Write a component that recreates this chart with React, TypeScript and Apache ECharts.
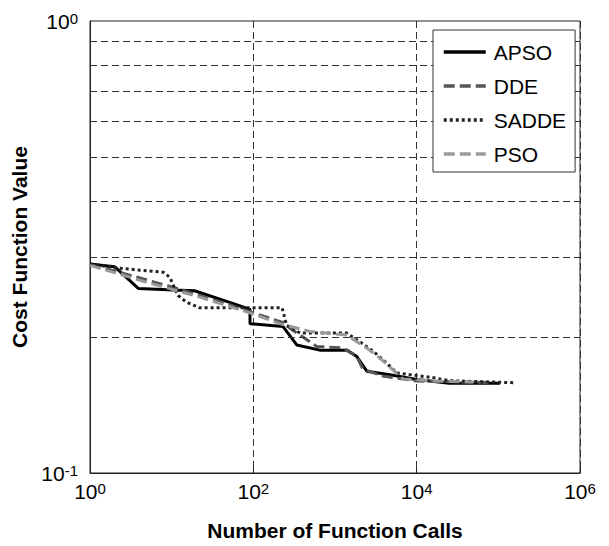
import React, { useEffect, useRef } from 'react';
import * as echarts from 'echarts';

const FONT = '"Liberation Sans", Arial, Helvetica, sans-serif';

const seriesNames = ['APSO', 'DDE', 'SADDE', 'PSO'];

const apsoX = [1, 2, 3.9, 10.5, 19, 57, 91, 91, 230, 340, 650, 1400, 1850, 2450, 4700, 10000, 25000, 105000];
const apsoY = [0.29, 0.286, 0.256, 0.254, 0.253, 0.237, 0.23, 0.214, 0.211, 0.192, 0.187, 0.187, 0.181, 0.168, 0.165, 0.161, 0.158, 0.158];

const ddeX = [1, 2, 10, 50, 100, 256, 281, 597, 1253, 1845, 2200, 3870, 10000, 79000];
const ddeY = [0.289, 0.28, 0.258, 0.236, 0.226, 0.214, 0.209, 0.1906, 0.189, 0.1812, 0.1698, 0.1638, 0.1598, 0.1585];

const saddeX = [1, 2.2, 7.9, 9.5, 10.5, 12, 15, 22, 225, 256, 373, 1390, 2020, 2940, 4300, 5700, 16000, 25600, 160000];
const saddeY = [0.29, 0.284, 0.278, 0.271, 0.26, 0.247, 0.239, 0.232, 0.232, 0.212, 0.204, 0.204, 0.195, 0.186, 0.175, 0.1665, 0.1625, 0.16, 0.1584];

const psoX = [1, 5.4, 22, 91, 212, 494, 1390, 2445, 3540, 6800, 17700, 50000];
const psoY = [0.288, 0.263, 0.245, 0.226, 0.214, 0.2056, 0.202, 0.189, 0.1796, 0.1614, 0.1598, 0.1589];

const yGridValues = [0.2, 0.3, 0.4, 0.5, 0.6, 0.7, 0.8, 0.9];

const zip = (xs: number[], ys: number[]) => xs.map((x, i) => [x, ys[i]]);

const powLabel = (v: number) => {
  const e = Math.round(Math.log10(v));
  return `{b|10}{e|${e}}`;
};

const rich = {
  b: { fontSize: 21, lineHeight: 21, fontFamily: FONT, color: '#000', padding: [9, 0, 9, 0] },
  e: { fontSize: 15, lineHeight: 15, fontFamily: FONT, color: '#000', verticalAlign: 'top' },
};

export default function App() {
  const ref = useRef<HTMLDivElement>(null);
  useEffect(() => {
    if (!ref.current) return;
    const chart = echarts.init(ref.current, null, { renderer: 'svg' });
    const nameStyle = { fontFamily: FONT, fontWeight: 'bold', fontSize: 21, color: '#000' };
    const option: any = {
      animation: false,
      backgroundColor: '#fff',
      grid: { left: 90, right: 29, top: 21, bottom: 68, show: true, borderColor: '#222', borderWidth: 1, backgroundColor: 'transparent' },
      legend: {
        data: seriesNames,
        orient: 'vertical',
        left: 433,
        top: 30,
        itemWidth: 42,
        itemHeight: 14,
        itemGap: 10,
        padding: [10, 9, 6, 9],
        borderColor: '#333',
        borderWidth: 1,
        backgroundColor: '#fff',
        itemStyle: { color: 'transparent', borderColor: 'transparent', borderWidth: 0, opacity: 0 },
        lineStyle: { width: 3.5 },
        textStyle: { fontFamily: FONT, fontSize: 21, lineHeight: 24, color: '#000', padding: [0, 0, 0, 3] },
        selectedMode: false,
        z: 10,
      },
      xAxis: {
        type: 'log',
        logBase: 10,
        min: 1,
        max: 1e6,
        interval: 2,
        name: 'Number of Function Calls',
        nameLocation: 'middle',
        nameGap: 47,
        nameTextStyle: nameStyle,
        axisLine: { show: true, lineStyle: { color: '#222', width: 1 } },
        axisTick: { show: true, inside: true, length: 5, lineStyle: { color: '#222' } },
        axisLabel: { formatter: powLabel, rich, margin: 8, showMinLabel: true, showMaxLabel: true },
        splitLine: { show: true, lineStyle: { color: '#333', type: [7, 4], width: 1 } },
      },
      yAxis: {
        type: 'log',
        logBase: 10,
        min: 0.1,
        max: 1,
        interval: 1,
        name: 'Cost Function Value',
        nameLocation: 'middle',
        nameGap: 59,
        nameTextStyle: nameStyle,
        axisLine: { show: true, lineStyle: { color: '#222', width: 1 } },
        axisTick: { show: false },
        axisLabel: { formatter: powLabel, rich, margin: 12, showMinLabel: true, showMaxLabel: true },
        splitLine: { show: false },
      },
      series: [
        {
          type: 'line',
          name: 'gridlines',
          data: [],
          silent: true,
          z: 1,
          markLine: {
            silent: true,
            symbol: ['none', 'none'],
            label: { show: false },
            emphasis: { disabled: true },
            lineStyle: { color: '#333', type: [7, 4], width: 1 },
            data: yGridValues.map((v) => ({ yAxis: v })),
          },
        },
        {
          type: 'line', name: 'APSO', data: zip(apsoX, apsoY), symbol: 'none', z: 3,
          lineStyle: { color: '#000', width: 3, type: 'solid' }, itemStyle: { color: '#000' },
        },
        {
          type: 'line', name: 'DDE', data: zip(ddeX, ddeY), symbol: 'none', z: 3,
          lineStyle: { color: '#555', width: 3, type: [11, 5] }, itemStyle: { color: '#555' },
        },
        {
          type: 'line', name: 'SADDE', data: zip(saddeX, saddeY), symbol: 'none', z: 3,
          lineStyle: { color: '#222', width: 3, type: [3, 3] }, itemStyle: { color: '#222' },
        },
        {
          type: 'line', name: 'PSO', data: zip(psoX, psoY), symbol: 'none', z: 3,
          lineStyle: { color: '#999', width: 3, type: [11, 5] }, itemStyle: { color: '#999' },
        },
      ],
    };
    chart.setOption(option);
    return () => chart.dispose();
  }, []);
  return <div ref={ref} style={{ position: 'absolute', left: 0, top: 0, width: 609, height: 546 }} />;
}
